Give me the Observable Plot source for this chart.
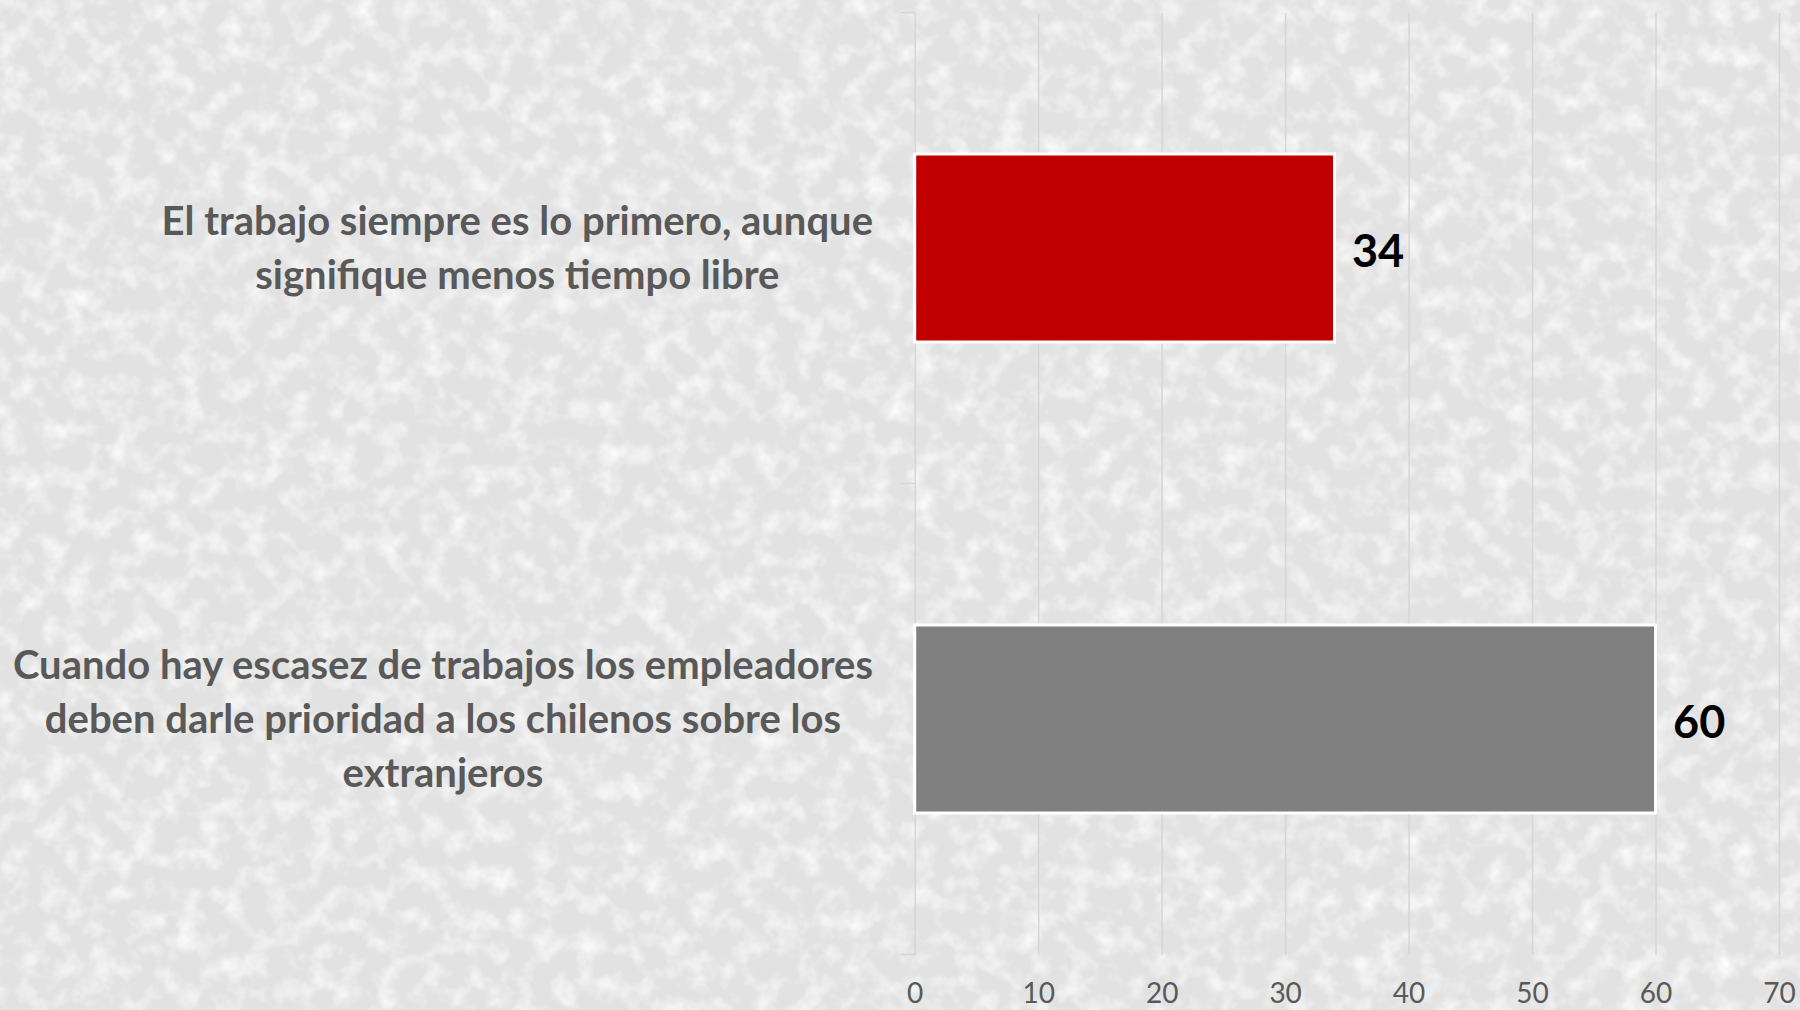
<!DOCTYPE html>
<html>
<head>
<meta charset="utf-8">
<script src="https://cdn.jsdelivr.net/npm/d3@7"></script>
<script src="https://cdn.jsdelivr.net/npm/@observablehq/plot@0.6"></script>
<style>
  html, body { margin: 0; padding: 0; }
  body {
    width: 1800px; height: 1010px; overflow: hidden;
    background-color: #e4e4e4;
    background-image: url("data:image/svg+xml;utf8,<svg xmlns='http://www.w3.org/2000/svg' width='1800' height='1010'><filter id='n' x='0' y='0' width='100%25' height='100%25'><feTurbulence type='fractalNoise' baseFrequency='0.045' numOctaves='3' seed='7'/><feColorMatrix values='0 0 0 0 1  0 0 0 0 1  0 0 0 0 1  1.8 0 0 0 -0.78'/></filter><rect width='100%25' height='100%25' fill='%23e2e2e2'/><rect width='100%25' height='100%25' filter='url(%23n)'/></svg>");
    font-family: Lato, "Open Sans", sans-serif;
  }
  #chart svg { display: block; }
</style>
</head>
<body>
<div id="chart"></div>
<script>
const categories = [
  "El trabajo siempre es lo primero, aunque\nsignifique menos tiempo libre",
  "Cuando hay escasez de trabajos los empleadores\ndeben darle prioridad a los chilenos sobre los\nextranjeros"
];
const values = [34, 60];
const barColors = ["#C00000", "#808080"];
const xTicks = [0, 10, 20, 30, 40, 50, 60, 70];

const data = categories.map((c, i) => ({category: c, value: values[i], color: barColors[i]}));

const labelRight = 873;
const gridColor = "#d6d6d6";

// small category separator ticks at band boundaries
function categoryTicks(index, scales, values, dims) {
  const y = scales.y;
  const step = y.step();
  const half = step / 2;
  const bounds = [];
  categories.forEach((c, i) => {
    const center = y(c) + y.bandwidth() / 2;
    if (i === 0) bounds.push(center - half);
    bounds.push(center + half);
  });
  const g = d3.create("svg:g");
  g.selectAll("line").data(bounds).join("line")
    .attr("x1", dims.marginLeft - 14).attr("x2", dims.marginLeft)
    .attr("y1", d => d).attr("y2", d => d)
    .attr("stroke", gridColor).attr("stroke-width", 1.5);
  return g.node();
}

const plot = Plot.plot({
  width: 1800,
  height: 1010,
  marginLeft: 914.7,
  marginRight: 21,
  marginTop: 13,
  marginBottom: 55,
  style: {background: "transparent", fontFamily: "Lato, 'Open Sans', sans-serif"},
  x: {domain: [0, 70], label: null},
  y: {domain: categories, paddingInner: 0.6, paddingOuter: 0.3, label: null},
  marks: [
    Plot.gridX(xTicks, {stroke: gridColor, strokeOpacity: 1, strokeWidth: 1.5}),
    categoryTicks,
    Plot.barX(data, {x: "value", y: "category", fill: "color", stroke: "white", strokeWidth: 3}),
    Plot.text(data, {x: "value", y: "category", text: d => String(d.value), dx: 17, dy: 4, textAnchor: "start",
      fontSize: 45, fontWeight: "bold", fill: "black"}),
    Plot.axisX(xTicks, {tickSize: 0, tickPadding: 28, fontSize: 28, color: "#595959", label: null, tickFormat: d => String(d)}),
    Plot.axisY({tickSize: 0, tickPadding: 0, textAnchor: "middle", lineWidth: Infinity, lineHeight: 1.35, dy: -4,
      fontSize: 40, fontWeight: "bold", fill: "#595959", label: null})
  ]
});

document.getElementById("chart").appendChild(plot);

// right-align each label block (lines centered within the block)
const svgRect = plot.getBoundingClientRect();
plot.querySelectorAll("g[aria-label='y-axis tick label'] text").forEach(t => {
  const r = t.getBoundingClientRect();
  const shift = labelRight - (r.right - svgRect.left);
  const tr = t.getAttribute("transform") || "";
  t.setAttribute("transform", `translate(${shift},0) ${tr}`);
});
</script>
</body>
</html>
